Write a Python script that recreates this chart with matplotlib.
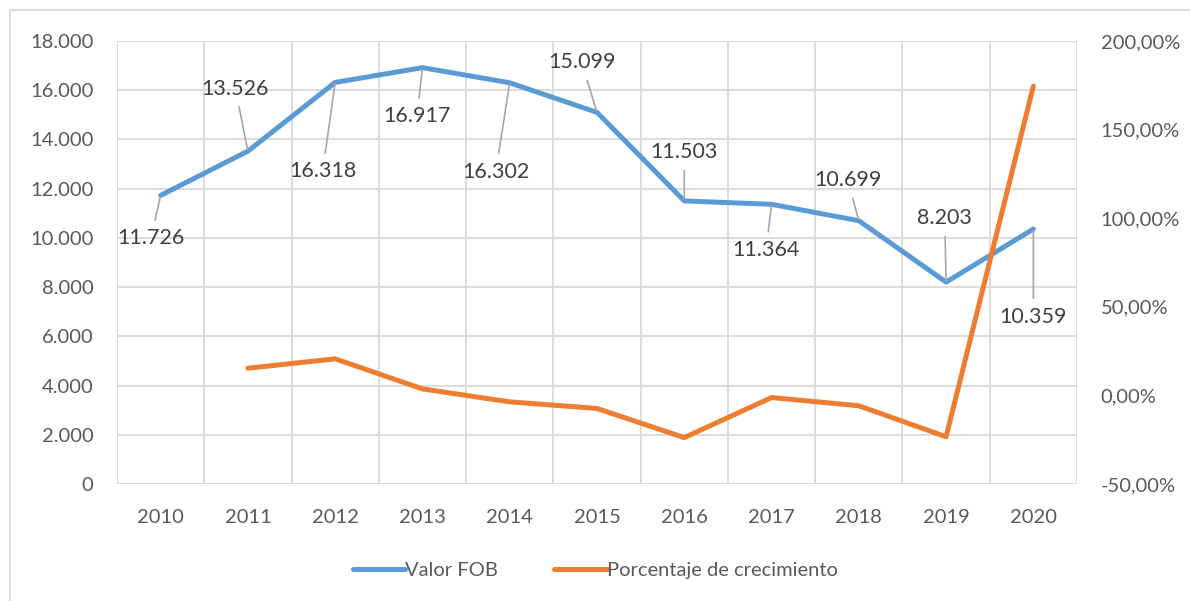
import matplotlib
matplotlib.use('Agg')
import matplotlib.pyplot as plt
from matplotlib.patches import Rectangle
from matplotlib.ticker import FuncFormatter, MultipleLocator

# datos
years = ['2010', '2011', '2012', '2013', '2014', '2015',
         '2016', '2017', '2018', '2019', '2020']
valor_fob = [11726, 13526, 16318, 16917, 16302, 15099,
             11503, 11364, 10699, 8203, 10359]
crecimiento = [None, 15.35, 20.64, 3.67, -3.64, -7.38,
               -23.82, -1.21, -5.85, -23.33, 174.5]

# desplazamiento de etiquetas (puntos)
label_dx = [-7, -9, -9, -4, -10, -11, 0, -4, -8, -1, 0]
label_dy = [-31, 45, -64, -35, -64, 36, 35, -33, 29, 46, -63]

BLUE = '#5B9BD5'
ORANGE = '#ED7D31'
GRID = '#d9d9d9'
TXT = '#595959'
FONT = ['Lato', 'DejaVu Sans']

plt.rcParams['font.family'] = FONT

fig = plt.figure(figsize=(11.9, 6.01), dpi=100)
ax = fig.add_axes([117 / 1190, 1 - 484 / 601, 960 / 1190, 443 / 601])
ax2 = ax.twinx()

x = list(range(len(years)))
ax.plot(x, valor_fob, color=BLUE, lw=3.6, solid_capstyle='round',
        solid_joinstyle='round', label='Valor FOB', zorder=3)

xs = [i for i, v in zip(x, crecimiento) if v is not None]
ys = [v for v in crecimiento if v is not None]
ax2.plot(xs, ys, color=ORANGE, lw=3.6, solid_capstyle='round',
         solid_joinstyle='round', label='Porcentaje de crecimiento', zorder=3)

# ejes
ax.set_xlim(-0.5, len(years) - 0.5)
ax.set_ylim(0, 18000)
ax.yaxis.set_major_locator(MultipleLocator(2000))
ax.yaxis.set_major_formatter(FuncFormatter(
    lambda v, p: f'{int(v):,}'.replace(',', '.')))
ax2.set_ylim(-50, 200)
ax2.yaxis.set_major_locator(MultipleLocator(50))
ax2.yaxis.set_major_formatter(FuncFormatter(
    lambda v, p: f'{v:.2f}'.replace('.', ',') + '%'))

ax.set_xticks(x)
ax.set_xticklabels(years)
ax.set_xticks([i - 0.5 for i in range(len(years) + 1)], minor=True)
ax.grid(True, which='major', axis='y', color=GRID, lw=1.3, zorder=0)
ax.grid(True, which='minor', axis='x', color=GRID, lw=1.3, zorder=0)
ax.grid(False, which='major', axis='x')

for a in (ax, ax2):
    for s in a.spines.values():
        s.set_visible(False)
    a.tick_params(which='both', length=0, labelsize=14.5, colors=TXT)
ax.tick_params(axis='y', pad=17)
ax.tick_params(axis='x', pad=18)
ax2.tick_params(axis='y', pad=17)

# etiquetas de datos con líneas guía
for i, v in enumerate(valor_fob):
    ax.annotate(f'{v:,}'.replace(',', '.'), xy=(i, v),
                xytext=(label_dx[i], label_dy[i]), textcoords='offset points',
                ha='center', va='center', fontsize=15.5, color='#404040',
                arrowprops=dict(arrowstyle='-', color='#a6a6a6', lw=1.2,
                                shrinkA=4, shrinkB=1),
                zorder=5)

# leyenda
h1, l1 = ax.get_legend_handles_labels()
h2, l2 = ax2.get_legend_handles_labels()
fig.legend(h1 + h2, l1 + l2, loc='center', bbox_to_anchor=(0.5, 1 - 570 / 601),
           ncol=2, frameon=False, fontsize=14.5, handlelength=2.6,
           handletextpad=0.0, columnspacing=2.8, labelcolor=TXT)

# marco del gráfico
fig.patches.append(Rectangle((10 / 1190, -0.1), 1.2, 1.1 - 10 / 601,
                             transform=fig.transFigure, fill=False,
                             edgecolor=GRID, lw=1.3))

fig.savefig('out.png', dpi=100)
